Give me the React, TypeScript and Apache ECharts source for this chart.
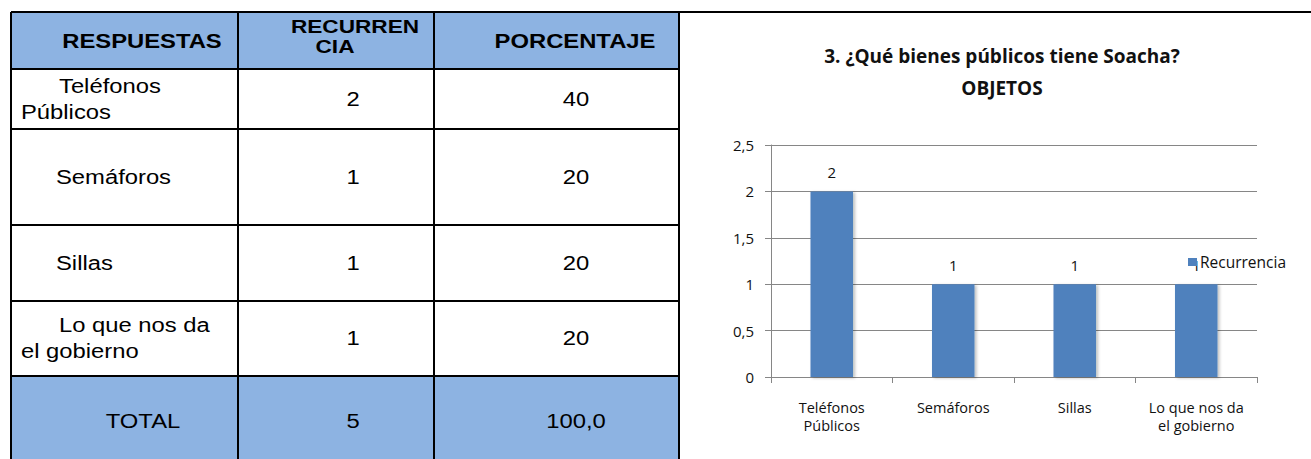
import React, { useEffect, useRef } from "react";
import * as echarts from "echarts";

// ---- data ----
const categories = ["Teléfonos Públicos", "Semáforos", "Sillas", "Lo que nos da el gobierno"];
const rowLines = [["Teléfonos", "Públicos"], ["Semáforos"], ["Sillas"], ["Lo que nos da", "el gobierno"]];
const axisLabels = ["Teléfonos\nPúblicos", "Semáforos", "Sillas", "Lo que nos da\nel gobierno"];
const recurrencia = [2, 1, 1, 1];
const porcentaje = ["40", "20", "20", "20"];
const totalLabel = "TOTAL";
const totalRecurrencia = "5";
const totalPorcentaje = "100,0";
const headers = ["RESPUESTAS", "RECURREN", "CIA", "PORCENTAJE"];
const chartTitle = "3. ¿Qué bienes públicos tiene Soacha?";
const chartSubtitle = "OBJETOS";
const seriesName = "Recurrencia";

// ---- layout ----
const W = 1311;
const H = 459;
const colX = [11, 238, 434, 679];
const rowY = [12, 69, 129, 225, 301, 376, 466];
const rowCenters = [99, 177, 263, 338];
const HEADER_BG = "#8DB3E2";
const SX = 1.19;
const TFONT = "Liberation Sans, Arial, sans-serif";
const CFONT = "Open Sans, sans-serif";

function tText(text: string, x: number, y: number, align: string, bold = false, size = 20) {
  return {
    type: "text",
    x,
    y,
    scaleX: SX,
    z: 20,
    style: {
      text,
      fill: "#000",
      font: `${bold ? "bold " : ""}${size}px ${TFONT}`,
      textAlign: align,
      textVerticalAlign: "middle",
    },
  };
}

function buildGraphic() {
  const g: any[] = [];
  // fills
  g.push({ type: "rect", shape: { x: colX[0], y: rowY[0], width: colX[3] - colX[0], height: rowY[1] - rowY[0] }, style: { fill: HEADER_BG }, z: 1 });
  g.push({ type: "rect", shape: { x: colX[0], y: rowY[5], width: colX[3] - colX[0], height: rowY[6] - rowY[5] }, style: { fill: HEADER_BG }, z: 1 });
  // borders
  const ls = { stroke: "#000", lineWidth: 2 };
  g.push({ type: "line", shape: { x1: colX[0], y1: rowY[0], x2: W, y2: rowY[0] }, style: ls, z: 10 });
  for (let i = 1; i < rowY.length - 1; i++) {
    g.push({ type: "line", shape: { x1: colX[0], y1: rowY[i], x2: colX[3], y2: rowY[i] }, style: ls, z: 10 });
  }
  colX.forEach((x) => {
    g.push({ type: "line", shape: { x1: x, y1: rowY[0], x2: x, y2: H }, style: ls, z: 10 });
  });
  // header
  g.push(tText(headers[0], 142, 41, "center", true));
  g.push(tText(headers[1], 355, 26, "center", true, 19));
  g.push(tText(headers[2], 335, 46, "center", true, 19));
  g.push(tText(headers[3], 575, 41, "center", true));
  // rows
  categories.forEach((_, i) => {
    const c = rowCenters[i];
    const lines = rowLines[i];
    if (lines.length === 2) {
      g.push(tText(lines[0], 59, c - 13, "left"));
      g.push(tText(lines[1], 21, c + 13, "left"));
    } else {
      g.push(tText(lines[0], 56, c, "left"));
    }
    g.push(tText(String(recurrencia[i]), 353, c, "center"));
    g.push(tText(porcentaje[i], 576, c, "center"));
  });
  g.push(tText(totalLabel, 143, 421, "center"));
  g.push(tText(totalRecurrencia, 353, 421, "center"));
  g.push(tText(totalPorcentaje, 576, 421, "center"));
  // chart title
  g.push({ type: "text", x: 1002, y: 56, z: 20, style: { text: chartTitle, fill: "#111", font: `bold 19px ${CFONT}`, textAlign: "center", textVerticalAlign: "middle" } });
  g.push({ type: "text", x: 1002, y: 88, z: 20, style: { text: chartSubtitle, fill: "#111", font: `bold 19px ${CFONT}`, textAlign: "center", textVerticalAlign: "middle" } });
  return g;
}

export default function App() {
  const ref = useRef<HTMLDivElement>(null);
  useEffect(() => {
    document.body.style.margin = "0";
    const chart = echarts.init(ref.current!, undefined, { renderer: "svg" });
    const axisColor = "#868686";
    chart.setOption({
      animation: false,
      backgroundColor: "#fff",
      graphic: buildGraphic(),
      legend: {
        data: [seriesName],
        left: 1183,
        top: 249,
        icon: "rect",
        itemWidth: 9,
        itemHeight: 8,
        textStyle: { fontFamily: CFONT, fontSize: 15.5, color: "#111", padding: [0, 0, 0, -2] },
      },
      grid: { left: 771, top: 145, width: 486, height: 232 },
      xAxis: {
        type: "category",
        data: axisLabels,
        axisLine: { lineStyle: { color: axisColor } },
        axisTick: { show: true, length: 6, alignWithLabel: false, interval: 0, lineStyle: { color: axisColor } },
        axisLabel: { interval: 0, fontFamily: CFONT, fontSize: 14.5, lineHeight: 18, margin: 21, color: "#111" },
      },
      yAxis: {
        type: "value",
        min: 0,
        max: 2.5,
        interval: 0.5,
        axisLine: { show: true, lineStyle: { color: axisColor } },
        axisTick: { show: true, length: 6, lineStyle: { color: axisColor } },
        axisLabel: {
          fontFamily: CFONT,
          fontSize: 15,
          margin: 17,
          color: "#111",
          formatter: (v: number) => String(v).replace(".", ","),
        },
        splitLine: { lineStyle: { color: axisColor } },
      },
      series: [
        {
          name: seriesName,
          type: "bar",
          data: recurrencia,
          barWidth: "35%",
          itemStyle: { color: "#4F81BD", shadowColor: "rgba(0,0,0,0.25)", shadowBlur: 3, shadowOffsetX: 2, shadowOffsetY: 1 },
          label: { show: true, position: "top", distance: 12, fontFamily: CFONT, fontSize: 15, color: "#111" },
        },
      ],
    });
    return () => chart.dispose();
  }, []);
  return <div ref={ref} style={{ width: W, height: H }} />;
}
